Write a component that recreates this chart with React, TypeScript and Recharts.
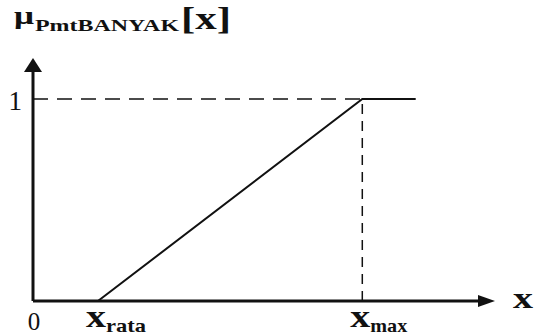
import { LineChart, Line, XAxis, YAxis, ReferenceLine, Label } from 'recharts';

// membership curve points (x in % of the axis, y = degree of membership)
const curveX = [14.6, 74, 86];
const curveY = [0, 1, 1];

const xTickValues = [0, 14.6, 74];
const xTickMain = ['0', 'x', 'x'];
const xTickSub = ['', 'rata', 'max'];
const yTickValues = [1];
const yTickLabels = ['1'];

const xMax = 74;

const data = curveX.map((x, i) => ({ x, y: curveY[i] }));

const serif = '"Liberation Serif", "Times New Roman", serif';
const subWidth = [0, 40, 37];

const XTick = ({ x, y, index }: any) => {
  if (!xTickSub[index]) {
    return (
      <text x={x + 1} y={y + 21} textAnchor="middle" fontFamily={serif} fontSize={25} fill="#111">
        {xTickMain[index]}
      </text>
    );
  }
  return (
    <g>
      <text x={x - 12} y={y + 18} fontFamily={serif} fontWeight="bold" fontSize={32}
        textLength={20} lengthAdjust="spacingAndGlyphs" fill="#111">
        {xTickMain[index]}
      </text>
      <text x={x + 8} y={y + 23} fontFamily={serif} fontWeight="bold" fontSize={19}
        textLength={subWidth[index]} lengthAdjust="spacingAndGlyphs" fill="#111">
        {xTickSub[index]}
      </text>
    </g>
  );
};

const YTick = ({ x, y, index }: any) => (
  <text x={x - 3} y={y + 11} textAnchor="end" fontFamily={serif} fontSize={27} fill="#111">
    {yTickLabels[index]}
  </text>
);

const YTitle = ({ viewBox }: any) => {
  const { x, y } = viewBox;
  return (
    <g fill="#111" fontFamily={serif} fontWeight="bold">
      <text x={x - 18} y={y - 48} fontSize={26} textLength={20} lengthAdjust="spacingAndGlyphs">μ</text>
      <text x={x + 3} y={y - 41} fontSize={16} textLength={144} lengthAdjust="spacingAndGlyphs">PmtBANYAK</text>
      <text x={x + 149} y={y - 43} fontSize={31} textLength={50} lengthAdjust="spacingAndGlyphs">[x]</text>
    </g>
  );
};

const XTitle = ({ viewBox }: any) => {
  const { x, y, width } = viewBox;
  return (
    <text x={x + width + 35} y={y + 7} fill="#111" fontFamily={serif} fontWeight="bold"
      fontSize={30} textLength={20} lengthAdjust="spacingAndGlyphs">
      x
    </text>
  );
};

export default function App() {
  return (
    <div style={{ position: 'absolute', left: 0, top: 0, background: '#fff' }}>
      <LineChart width={544} height={335} data={data} margin={{ top: 72, right: 66, bottom: 33, left: 32 }}>
        <defs>
          <marker id="arrowX" markerUnits="userSpaceOnUse" markerWidth={18} markerHeight={14}
            refX={0} refY={6} orient="auto">
            <path d="M0,0 L17,6 L0,12 Z" fill="#111" />
          </marker>
          <marker id="arrowY" markerUnits="userSpaceOnUse" markerWidth={16} markerHeight={20}
            refX={0} refY={9} orient="auto-start-reverse">
            <path d="M0,0 L14,9 L0,18 Z" fill="#111" />
          </marker>
        </defs>
        <XAxis
          type="number"
          dataKey="x"
          domain={[0, 100]}
          ticks={xTickValues}
          tick={<XTick />}
          tickLine={false}
          height={1}
          interval={0}
          axisLine={{ stroke: '#111', strokeWidth: 3, markerEnd: 'url(#arrowX)' }}
        >
          <Label content={<XTitle />} />
        </XAxis>
        <YAxis
          type="number"
          domain={[0, 1.134]}
          ticks={yTickValues}
          tick={<YTick />}
          tickLine={false}
          width={1}
          axisLine={{ stroke: '#111', strokeWidth: 3, markerStart: 'url(#arrowY)' }}
        >
          <Label content={<YTitle />} />
        </YAxis>
        <ReferenceLine
          segment={[{ x: 0, y: 1 }, { x: xMax, y: 1 }]}
          stroke="#111"
          strokeWidth={1.5}
          strokeDasharray="15 9"
        />
        <ReferenceLine
          segment={[{ x: xMax, y: 0 }, { x: xMax, y: 1 }]}
          stroke="#111"
          strokeWidth={1.5}
          strokeDasharray="10 7"
        />
        <Line
          type="linear"
          dataKey="y"
          stroke="#111"
          strokeWidth={2}
          dot={false}
          isAnimationActive={false}
        />
      </LineChart>
    </div>
  );
}
